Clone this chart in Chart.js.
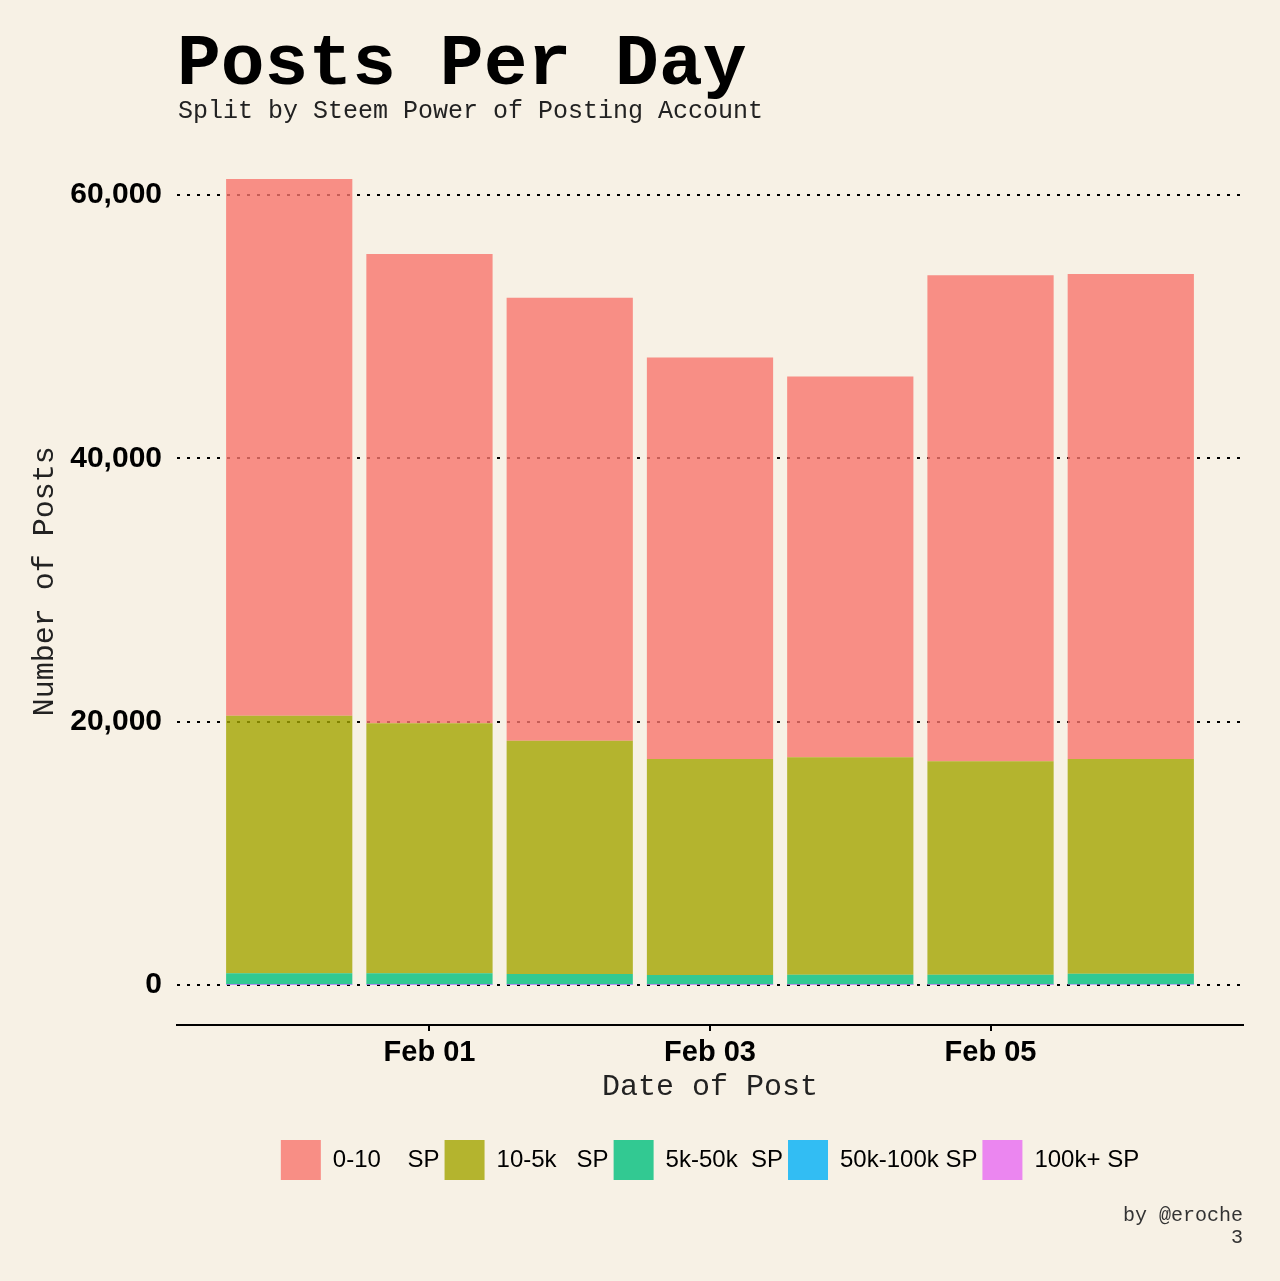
<!DOCTYPE html>
<html>
<head>
<meta charset="utf-8">
<script src="https://cdn.jsdelivr.net/npm/chart.js@4/dist/chart.umd.min.js"></script>
<style>
  html, body { margin: 0; padding: 0; background: #F7F1E5; }
  #wrap { position: relative; width: 1280px; height: 1281px; overflow: hidden; }
  canvas { position: absolute; left: 0; top: 0; }
  .mono { font-family: "Courier New", "Liberation Mono", monospace; color: #000; position: absolute; white-space: pre; }
  #title { left: 177px; top: 28px; font-size: 73px; font-weight: bold; line-height: 1; }
  #subtitle { left: 178px; top: 99px; font-size: 25px; line-height: 1; color: #222; }
  #caption { right: 37px; top: 1205px; font-size: 20px; line-height: 21.6px; text-align: right; color: #333; }
</style>
</head>
<body>
<div id="wrap">
  <canvas id="c" width="1280" height="1281"></canvas>
  <div id="title" class="mono">Posts Per Day</div>
  <div id="subtitle" class="mono">Split by Steem Power of Posting Account</div>
  <div id="caption" class="mono">by @eroche
3</div>
</div>
<script>
// ---- data ----
const dates = ['Jan 31', 'Feb 01', 'Feb 02', 'Feb 03', 'Feb 04', 'Feb 05', 'Feb 06'];
const tickDays = [1, 3, 5];
const yTicks = [0, 20000, 40000, 60000];
const seriesNames = ['0-10    SP', '10-5k   SP', '5k-50k  SP', '50k-100k SP', '100k+ SP'];
const sp0_10     = [40760, 35640, 33640, 30480, 28910, 36910, 36840];
const sp10_5k    = [19560, 18990, 17710, 16400, 16520, 16220, 16300];
const sp5k_50k   = [820, 820, 770, 700, 715, 705, 790];
const sp50k_100k = [45, 44, 42, 40, 38, 40, 44];
const sp100kPlus = [25, 26, 25, 24, 22, 23, 27];
const seriesColors = [
  'rgba(248,118,109,0.8)',
  'rgba(163,165,0,0.8)',
  'rgba(0,191,125,0.8)',
  'rgba(0,176,246,0.8)',
  'rgba(231,107,243,0.8)'
];

const allSeries = [sp0_10, sp10_5k, sp5k_50k, sp50k_100k, sp100kPlus];
// bottom of stack first: 100k+, 50k-100k, 5k-50k, 10-5k, 0-10
const datasets = [4, 3, 2, 1, 0].map(k => ({
  label: seriesNames[k],
  data: allSeries[k].map((v, i) => ({ x: i, y: v })),
  backgroundColor: seriesColors[k],
  borderColor: 'rgba(0,0,0,0)',
  borderWidth: 0,
  barPercentage: 0.9,
  categoryPercentage: 1.0
}));

const sansBold = (s) => ({ family: '"Liberation Sans", Arial, Helvetica, sans-serif', size: s, weight: 'bold' });
const monoFont = (s) => ({ family: '"Courier New", "Liberation Mono", monospace', size: s, weight: 'normal' });

new Chart(document.getElementById('c'), {
  type: 'bar',
  data: { datasets },
  options: {
    responsive: false,
    animation: false,
    devicePixelRatio: 1,
    layout: { padding: { top: 137.5, right: 37, bottom: 91, left: 0 } },
    plugins: {
      title: { display: false },
      tooltip: { enabled: false },
      legend: {
        position: 'bottom',
        fullSize: false,
        reverse: true,
        labels: {
          boxWidth: 40,
          boxHeight: 40,
          padding: 5,
          color: '#000',
          font: { family: '"Liberation Sans", Arial, Helvetica, sans-serif', size: 24 }
        }
      }
    },
    scales: {
      x: {
        type: 'linear',
        stacked: true,
        offset: false,
        min: -0.8,
        max: 6.8,
        afterBuildTicks: (s) => { s.ticks = tickDays.map(v => ({ value: v })); },
        afterFit: (s) => { s.height = 110; },
        ticks: {
          autoSkip: false,
          maxRotation: 0,
          padding: 5,
          color: '#000',
          font: sansBold(29),
          callback: (v) => dates[v]
        },
        grid: {
          display: true,
          offset: false,
          drawOnChartArea: false,
          drawTicks: true,
          tickLength: 6,
          color: '#000',
          lineWidth: 2
        },
        border: { display: true, color: '#000', width: 2 },
        title: {
          display: true,
          text: 'Date of Post',
          color: '#222',
          font: monoFont(30),
          padding: { top: 0, bottom: 30 }
        }
      },
      y: {
        stacked: true,
        min: -3040,
        max: 64360,
        afterBuildTicks: (s) => { s.ticks = yTicks.map(v => ({ value: v })); },
        afterFit: (s) => { s.width = 177; },
        ticks: {
          padding: 15,
          color: '#000',
          font: sansBold(30),
          callback: (v) => v.toLocaleString('en-US')
        },
        grid: {
          display: true,
          drawTicks: false,
          color: '#000',
          lineWidth: 2
        },
        border: { display: false, dash: [3, 7] },
        title: {
          display: true,
          text: 'Number of Posts',
          color: '#222',
          font: monoFont(30),
          padding: { top: 27, bottom: 0 }
        }
      }
    }
  }
});
</script>
</body>
</html>
